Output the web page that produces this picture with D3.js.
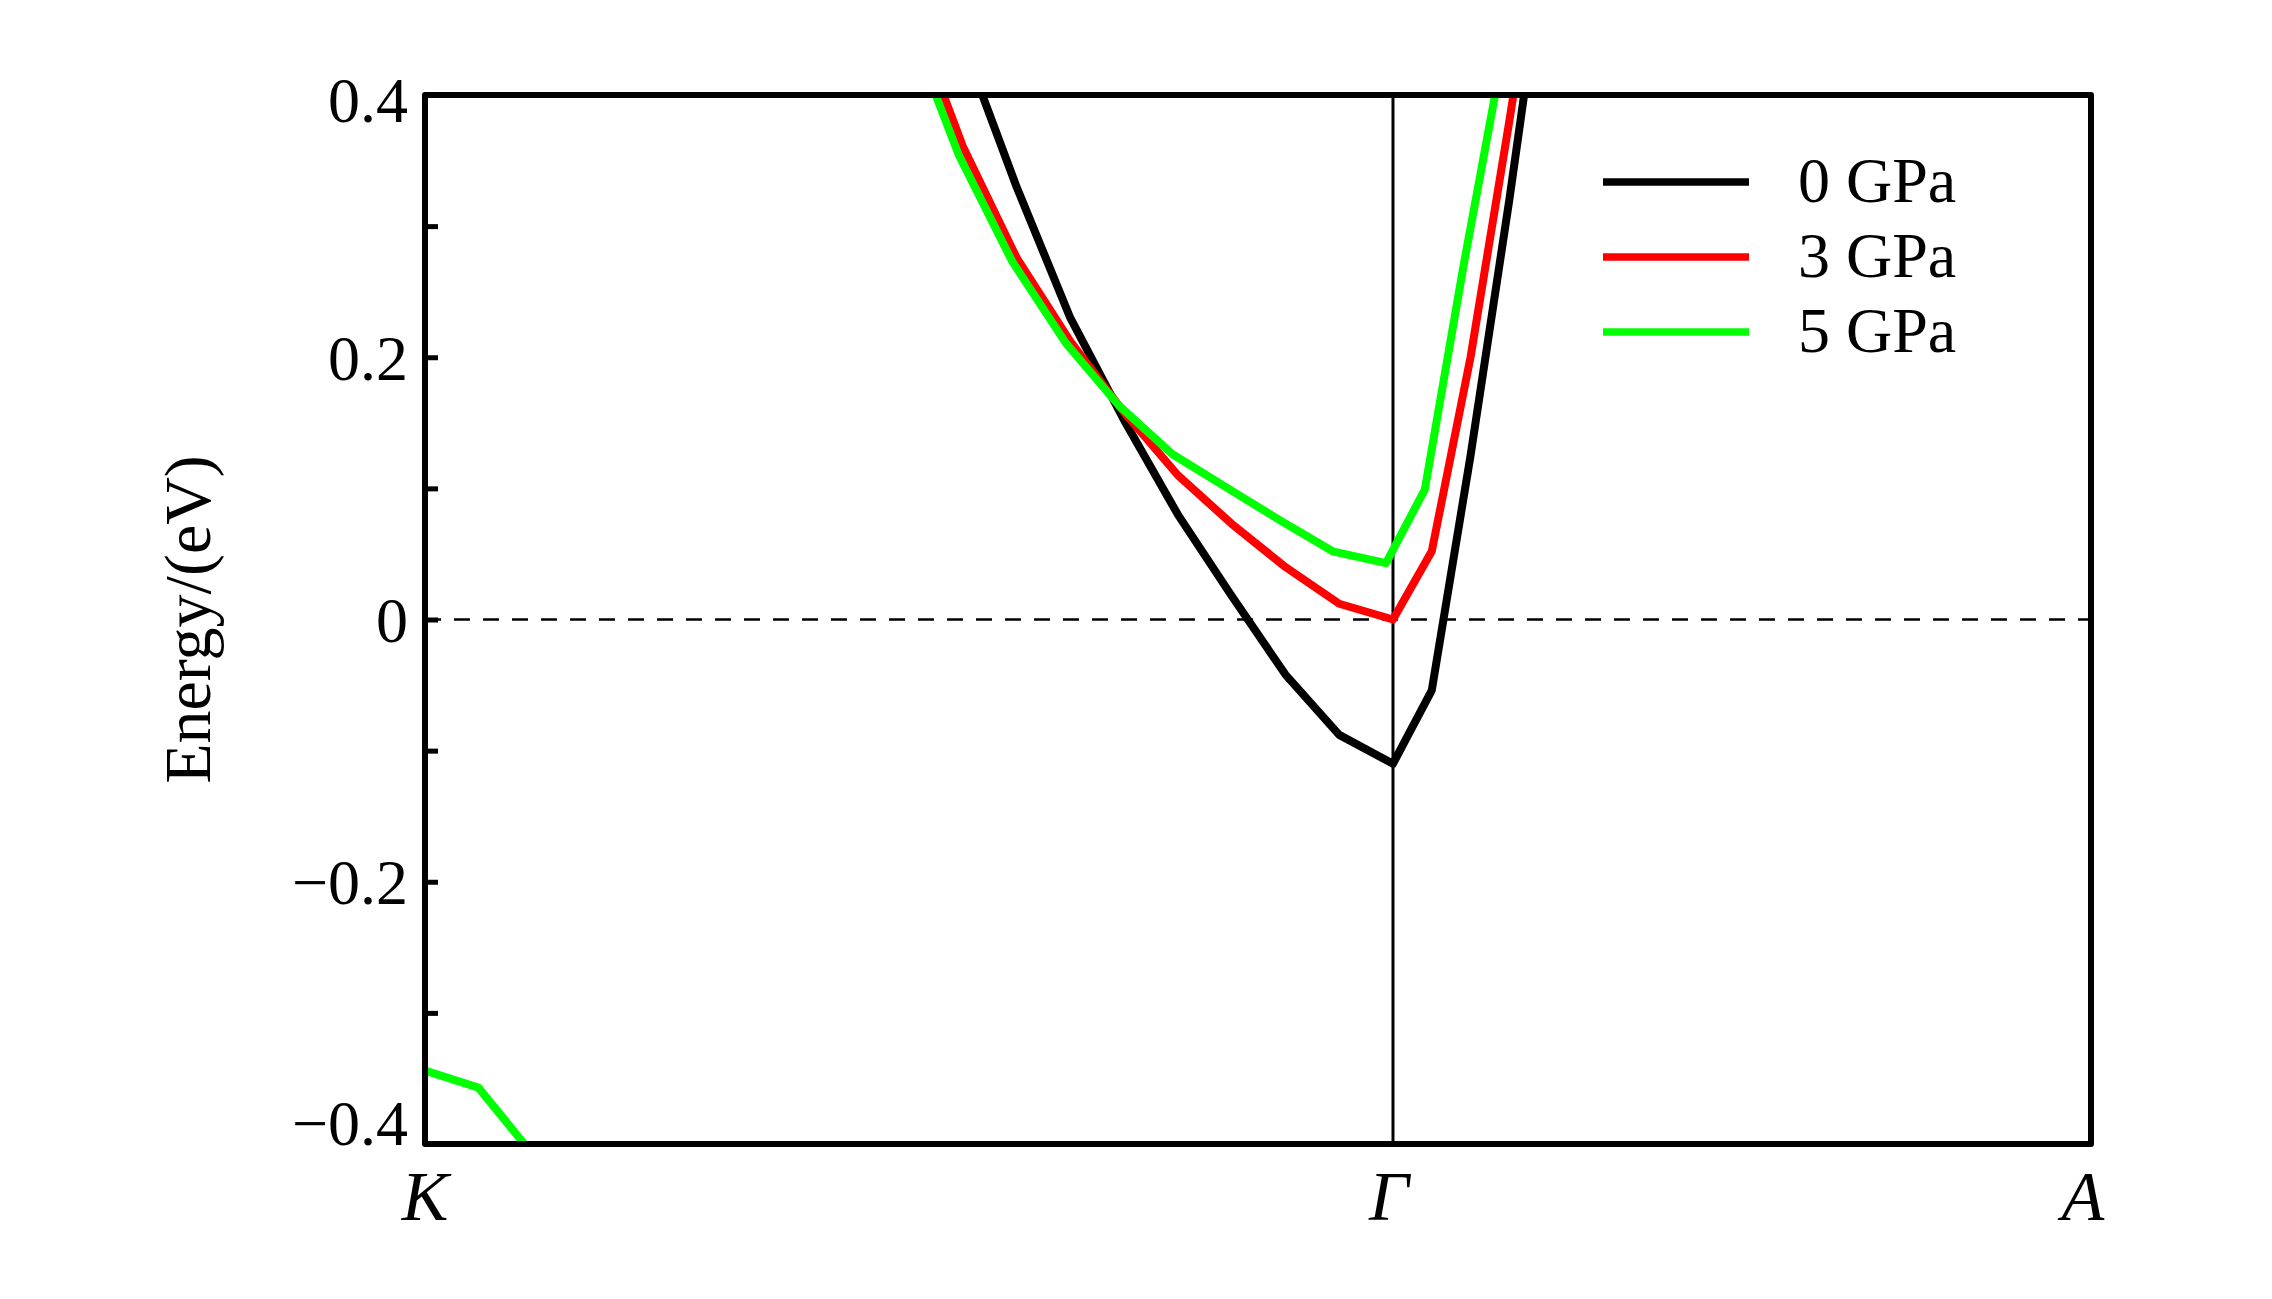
<!DOCTYPE html>
<html>
<head>
<meta charset="utf-8">
<script src="https://cdn.jsdelivr.net/npm/d3@7"></script>
<style>
  html, body { margin: 0; padding: 0; background: #ffffff; }
  svg { display: block; }
</style>
</head>
<body>
<script>
// ---------------- data ----------------
const highSymLabels = ["K", "Γ", "A"];
const highSymK = [0, 1.0, 1.7211];
const kIntervals = 18;             // k-points per segment (intervals)
const yTickValues = [-0.4, -0.3, -0.2, -0.1, 0, 0.1, 0.2, 0.3, 0.4];
const yTickLabels = [-0.4, -0.2, 0, 0.2, 0.4];

const seriesNames = ["0 GPa", "3 GPa", "5 GPa"];
const seriesColors = ["#000000", "#ff0000", "#00ff00"];
const seriesGammaK = [1.0, 1.0, 0.9928];   // Γ position of each pressure's k-path
const leftStartIndex = 9;                  // first K–Γ k-point index listed below

// conduction band, K→Γ (k-point index 9..18)
const band0GPa_KG = [0.56, 0.44, 0.33, 0.23, 0.152, 0.08, 0.018, -0.042, -0.088, -0.11];
const band3GPa_KG = [0.47, 0.361, 0.276, 0.212, 0.158, 0.11, 0.073, 0.040, 0.012, 0.0];
const band5GPa_KG = [0.46, 0.354, 0.273, 0.211, 0.163, 0.126, 0.101, 0.076, 0.052, 0.043];
// conduction band, Γ→A (k-point index 0..4)
const band0GPa_GA = [-0.11, -0.054, 0.125, 0.32, 0.53];
const band3GPa_GA = [0.0, 0.052, 0.20, 0.38, 0.57];
const band5GPa_GA = [0.043, 0.099, 0.27, 0.43, 0.60];
// lower band near K (5 GPa), K→Γ index 0..2
const lowBand5GPa_KG = [-0.344, -0.357, -0.407];

// ---------------- layout ----------------
const W = 2272, H = 1299;
const plot = { left: 425, right: 2091, top: 95, bottom: 1144 };
const fontFamily = "'Liberation Serif', 'Times New Roman', serif";

const x = d3.scaleLinear().domain([highSymK[0], highSymK[2]]).range([plot.left, plot.right]);
const y = d3.scaleLinear().domain([-0.4, 0.4]).range([plot.bottom, plot.top]);

const svg = d3.select("body").append("svg")
  .attr("width", W).attr("height", H)
  .style("background", "#fff");

svg.append("defs").append("clipPath").attr("id", "clip")
  .append("rect")
  .attr("x", plot.left).attr("y", plot.top)
  .attr("width", plot.right - plot.left).attr("height", plot.bottom - plot.top);

// build point lists
const stepGA = (highSymK[2] - highSymK[1]) / kIntervals;
function leftPoints(vals, gk, start) {
  return vals.map((v, i) => ({ k: gk * (start + i) / kIntervals, e: v }));
}
function rightPoints(vals, gk) {
  return vals.map((v, j) => ({ k: gk + j * stepGA, e: v }));
}
const bandsKG = [band0GPa_KG, band3GPa_KG, band5GPa_KG];
const bandsGA = [band0GPa_GA, band3GPa_GA, band5GPa_GA];

const line = d3.line().x(d => x(d.k)).y(d => y(d.e));

// zero (Fermi) dashed line
svg.append("line")
  .attr("x1", plot.left).attr("x2", plot.right)
  .attr("y1", y(0)).attr("y2", y(0))
  .attr("stroke", "#000").attr("stroke-width", 2.6)
  .attr("stroke-dasharray", "16,13");

// Γ vertical line
svg.append("line")
  .attr("x1", x(highSymK[1])).attr("x2", x(highSymK[1]))
  .attr("y1", plot.top).attr("y2", plot.bottom)
  .attr("stroke", "#000").attr("stroke-width", 3);

// curves
const curves = svg.append("g").attr("clip-path", "url(#clip)");
seriesNames.forEach((name, s) => {
  const gk = seriesGammaK[s];
  const pts = leftPoints(bandsKG[s], gk, leftStartIndex)
    .concat(rightPoints(bandsGA[s], gk).slice(1));
  curves.append("path")
    .datum(pts)
    .attr("d", line)
    .attr("fill", "none")
    .attr("stroke", seriesColors[s])
    .attr("stroke-width", 8)
    .attr("stroke-linejoin", "round");
});
curves.append("path")
  .datum(leftPoints(lowBand5GPa_KG, seriesGammaK[2], 0))
  .attr("d", line)
  .attr("fill", "none")
  .attr("stroke", seriesColors[2])
  .attr("stroke-width", 8)
  .attr("stroke-linejoin", "round");

// y axis (inward ticks)
const fmt = d3.format(".1f");
const yAxis = d3.axisLeft(y)
  .tickValues(yTickValues)
  .tickSize(-13)
  .tickPadding(17)
  .tickFormat(d => {
    const lab = yTickLabels.find(v => Math.abs(v - d) < 1e-9);
    if (lab === undefined) return "";
    return lab === 0 ? "0" : fmt(lab);
  });
const gy = svg.append("g")
  .attr("transform", `translate(${plot.left},0)`)
  .call(yAxis);
gy.select(".domain").remove();
gy.selectAll(".tick line").attr("stroke", "#000").attr("stroke-width", 5);
gy.selectAll(".tick text")
  .attr("fill", "#000")
  .style("font-family", fontFamily)
  .style("font-size", "64px")
  .attr("dy", d => (Math.abs(d - 0.4) < 1e-9 ? "0.42em" : Math.abs(d + 0.4) < 1e-9 ? "0.0em" : "0.34em"));

// frame
svg.append("rect")
  .attr("x", plot.left).attr("y", plot.top)
  .attr("width", plot.right - plot.left).attr("height", plot.bottom - plot.top)
  .attr("fill", "none").attr("stroke", "#000").attr("stroke-width", 6)
  .attr("stroke-linejoin", "round");

// x labels (high-symmetry points)
svg.append("g").selectAll("text")
  .data(highSymLabels)
  .join("text")
  .attr("x", (d, i) => x(highSymK[i]))
  .attr("y", 1220)
  .attr("text-anchor", "middle")
  .attr("dx", (d, i) => i === 2 ? -8 : (i === 1 ? -4 : 0))
  .style("font-family", fontFamily)
  .style("font-style", "italic")
  .style("font-size", "70px")
  .text(d => d);

// y title
svg.append("text")
  .attr("transform", `translate(210, ${y(0)}) rotate(-90)`)
  .attr("text-anchor", "middle")
  .style("font-family", fontFamily)
  .style("font-size", "66px")
  .text("Energy/(eV)");

// legend
const legend = svg.append("g");
seriesNames.forEach((name, s) => {
  const by = 202 + s * 75;
  legend.append("line")
    .attr("x1", 1603).attr("x2", 1749)
    .attr("y1", by - 20).attr("y2", by - 20)
    .attr("stroke", seriesColors[s]).attr("stroke-width", 7.5);
  legend.append("text")
    .attr("x", 1798).attr("y", by)
    .style("font-family", fontFamily)
    .style("font-size", "64px")
    .text(name);
});
</script>
</body>
</html>
